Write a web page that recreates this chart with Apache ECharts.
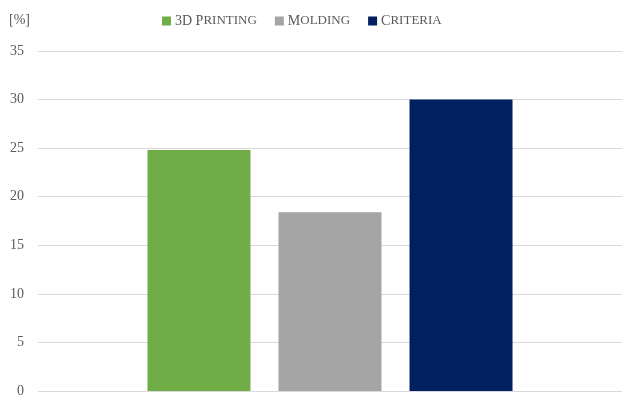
<!DOCTYPE html>
<html>
<head>
<meta charset="utf-8">
<script src="https://cdn.jsdelivr.net/npm/echarts@6/dist/echarts.min.js"></script>
<style>
  html, body { margin: 0; padding: 0; background: #fff; }
  #chart { width: 622px; height: 398px; }
</style>
</head>
<body>
<div id="chart"></div>
<script>
// Share of each method, in percent
const seriesNames = ['3D Printing', 'Molding', 'Criteria'];
const seriesValues = [24.8, 18.4, 30];
const seriesColors = ['#70AD47', '#A5A5A5', '#002060'];
const category = [''];
const yMax = 35;
const yStep = 5;
const unitLabel = '[%]';

const FONT = '"Liberation Serif", "Times New Roman", serif';
const TEXT_COLOR = '#595959';

// Emulate small caps: capitals keep full size, lowercase letters become smaller capitals
function smallCaps(text) {
  let out = '';
  let run = '';
  let runLower = null;
  const flush = () => {
    if (!run) return;
    out += runLower ? '{s|' + run.toUpperCase() + '}' : '{c|' + run + '}';
    run = '';
  };
  for (const ch of text) {
    const lower = ch !== ch.toUpperCase();
    if (runLower !== null && lower !== runLower) flush();
    runLower = lower;
    run += ch;
  }
  flush();
  return out;
}

const chart = echarts.init(document.getElementById('chart'), null, { renderer: 'canvas' });

chart.setOption({
  animation: false,
  backgroundColor: '#ffffff',
  title: {
    text: unitLabel,
    left: 4,
    top: 8,
    textStyle: { fontFamily: FONT, fontSize: 14, fontWeight: 'normal', color: TEXT_COLOR }
  },
  legend: {
    data: seriesNames,
    left: 157,
    top: 9,
    itemWidth: 9,
    itemHeight: 9,
    itemGap: 18,
    icon: 'rect',
    formatter: (name) => smallCaps(name),
    textStyle: {
      fontFamily: FONT,
      color: TEXT_COLOR,
      padding: [0, 0, 0, -1],
      rich: {
        c: { fontFamily: FONT, fontSize: 14, color: TEXT_COLOR },
        s: { fontFamily: FONT, fontSize: 13, color: TEXT_COLOR }
      }
    }
  },
  // plot runs slightly past the right edge so the gridlines reach it
  grid: { left: 38, width: 588, top: 51, bottom: 6, containLabel: false },
  xAxis: {
    type: 'category',
    data: category,
    axisLine: { show: false },
    axisTick: { show: false },
    axisLabel: { show: false }
  },
  yAxis: {
    type: 'value',
    min: 0,
    max: yMax,
    interval: yStep,
    axisLine: { show: false },
    axisTick: { show: false },
    axisLabel: { fontFamily: FONT, fontSize: 14, color: TEXT_COLOR, margin: 14 },
    splitLine: { lineStyle: { color: '#D9D9D9', width: 1 } }
  },
  series: seriesNames.map((name, i) => ({
    name: name,
    type: 'bar',
    data: [seriesValues[i]],
    barWidth: 103,
    barGap: '27.2%',
    itemStyle: { color: seriesColors[i] }
  }))
});
</script>
</body>
</html>
